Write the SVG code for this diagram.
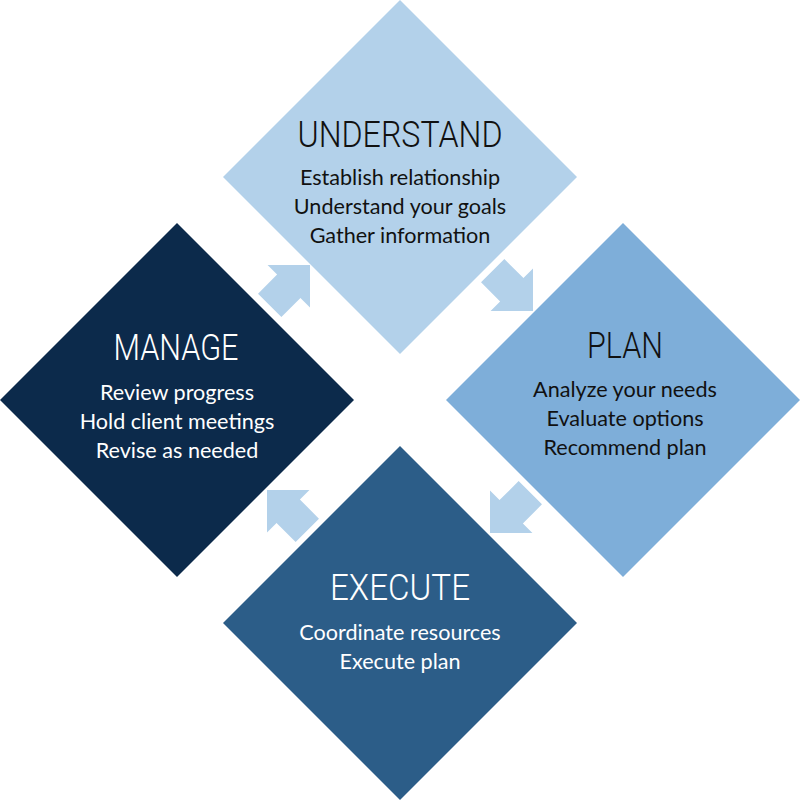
<svg xmlns="http://www.w3.org/2000/svg" width="800" height="800" viewBox="0 0 800 800">
  <style>
    .title { font-family: Roboto, "Liberation Sans", sans-serif; font-weight: 300; font-size: 37px; text-anchor: middle; }
    .body { font-family: Lato, "Liberation Sans", sans-serif; font-size: 21.6px; text-anchor: middle; }
    .dark { fill: #111111; }
    .light { fill: #ffffff; }
    .arrow { fill: #b3d1ea; }
  </style>
  <defs>
    <path id="arr" d="M0,0 L-30,-30 L-30,-16.5 L-57,-16.5 L-57,16.5 L-30,16.5 L-30,30 Z"/>
  </defs>
  <rect width="800" height="800" fill="#ffffff"/>

  <g id="understand">
    <polygon points="400,0 577,177 400,354 223,177" fill="#b3d1ea"/>
    <text class="title dark" x="400" y="147" textLength="205" lengthAdjust="spacingAndGlyphs">UNDERSTAND</text>
    <text class="body dark" x="400" y="185">Establish relationship</text>
    <text class="body dark" x="400" y="214">Understand your goals</text>
    <text class="body dark" x="400" y="243">Gather information</text>
  </g>

  <g id="plan">
    <polygon points="623,223 800,400 623,577 446,400" fill="#7eaed9"/>
    <text class="title dark" x="625" y="358" textLength="76" lengthAdjust="spacingAndGlyphs">PLAN</text>
    <text class="body dark" x="625" y="397">Analyze your needs</text>
    <text class="body dark" x="625" y="426">Evaluate options</text>
    <text class="body dark" x="625" y="455">Recommend plan</text>
  </g>

  <g id="execute">
    <polygon points="400,446 577,623 400,800 223,623" fill="#2c5d88"/>
    <text class="title light" x="400" y="600" textLength="140" lengthAdjust="spacingAndGlyphs">EXECUTE</text>
    <text class="body light" x="400" y="640">Coordinate resources</text>
    <text class="body light" x="400" y="669">Execute plan</text>
  </g>

  <g id="manage">
    <polygon points="177,223 354,400 177,577 0,400" fill="#0c2a4b"/>
    <text class="title light" x="176" y="360" textLength="125" lengthAdjust="spacingAndGlyphs">MANAGE</text>
    <text class="body light" x="177" y="400">Review progress</text>
    <text class="body light" x="177" y="429">Hold client meetings</text>
    <text class="body light" x="177" y="458">Revise as needed</text>
  </g>

  <g id="connectors">
    <use href="#arr" class="arrow" transform="translate(310,265) rotate(-45)"/>
    <use href="#arr" class="arrow" transform="translate(533,311) rotate(45)"/>
    <use href="#arr" class="arrow" transform="translate(490,533) rotate(135)"/>
    <use href="#arr" class="arrow" transform="translate(267,490) rotate(-135)"/>
  </g>
</svg>
